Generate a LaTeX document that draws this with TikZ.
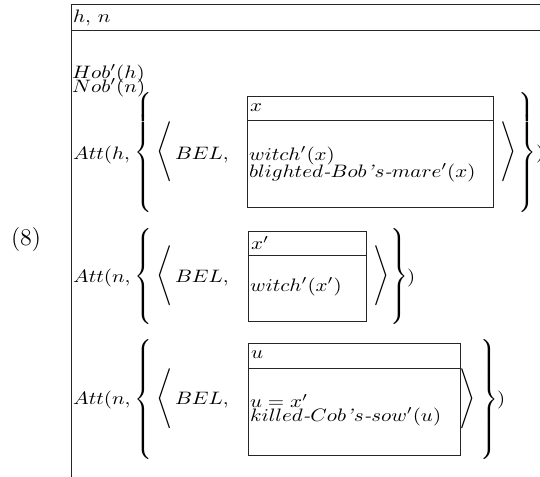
\documentclass[tikz,border=0pt]{standalone}
\usepackage{amsmath}
\usepackage{graphicx}
\delimiterfactor=1000
\delimitershortfall=0pt
% a delimiter stretched to a given total height, centred on the math axis
\newcommand\tallfence[3]{\ensuremath{\left#1\vcenter{\hbox{\vrule width 0pt height #3}}\right#2}}
% formula text, set a little wide and low
\newcommand\fm[1]{\scalebox{1.05}[0.9]{$#1$}}
\begin{document}
\begin{tikzpicture}[x=0.5pt,y=-0.5pt,
  every node/.style={inner sep=0pt, outer sep=0pt},
  txt/.style={anchor=west},
  rule/.style={line width=0.5pt, draw=black!85}]
\useasboundingbox (0,0) rectangle (540,476);

% outer box with its universe line
\draw[rule] (560,5) -- (71,5) -- (71,490);
\draw[rule] (71,31) -- (560,31);
\node[txt] (univ) at (73,18) {\fm{h,\,n}};
\node[txt] (hob) at (72,74) {\fm{Hob'(h)}};
\node[txt] (nob) at (72,88) {\fm{Nob'(n)}};

\node[txt] (num) at (11,240) {\large (8)};

% first attitude
\node[txt] (att1) at (73,155) {\fm{Att(h,}};
\node (lbr1) at (144.5,152) {\tallfence\{.{54.5pt}};
\node (lang1) at (165,152) {$\Bigg\langle$};
\node[txt] (bel1) at (175,155) {\fm{BEL,}};
\draw[rule] (247,97) rectangle (493,207);
\draw[rule] (247,120) -- (493,120);
\node[txt] (dr1) at (250,108) {\fm{x}};
\node[txt] (c1a) at (249,156) {\fm{witch'(x)}};
\node[txt] (c1b) at (249,173) {\fm{blighted\text{\textit{-}}Bob\text{\textit{'}}s\text{\textit{-}}mare'(x)}};
\node (rang1) at (508.5,152) {$\Bigg\rangle$};
\node (rbr1) at (526.5,152) {\tallfence.\}{54.5pt}};
\node[txt] (cl1) at (536,154) {\fm{)}};

% second attitude
\node[txt] (att2) at (73,278) {\fm{Att(n,}};
\node (lbr2) at (144.5,276) {\tallfence\{.{44.5pt}};
\node (lang2) at (165,276) {$\Bigg\langle$};
\node[txt] (bel2) at (175,278) {\fm{BEL,}};
\draw[rule] (248,231) rectangle (366,321);
\draw[rule] (248,255) -- (366,255);
\node[txt] (dr2) at (251,243) {\fm{x'}};
\node[txt] (c2a) at (250,287) {\fm{witch'(x')}};
\node (rang2) at (381.5,276) {$\Bigg\rangle$};
\node (rbr2) at (398.5,276) {\tallfence.\}{44.5pt}};
\node[txt] (cl2) at (407,278) {\fm{)}};

% third attitude
\node[txt] (att3) at (73,400) {\fm{Att(n,}};
\node (lbr3) at (144.5,399) {\tallfence\{.{56pt}};
\node (lang3) at (165,399) {$\Bigg\langle$};
\node[txt] (bel3) at (175,400) {\fm{BEL,}};
\draw[rule] (248,343) rectangle (460,455);
\draw[rule] (248,368) -- (460,368);
\node[txt] (dr3) at (251,355) {\fm{u}};
\node[txt] (c3a) at (250,401) {\fm{u=x'}};
\node[txt] (c3b) at (250,417) {\fm{killed\text{\textit{-}}Cob\text{\textit{'}}s\text{\textit{-}}sow'(u)}};
\node (rang3) at (467.5,399) {$\Bigg\rangle$};
\node (rbr3) at (488.5,399) {\tallfence.\}{56pt}};
\node[txt] (cl3) at (497,400) {\fm{)}};
\end{tikzpicture}
\end{document}
